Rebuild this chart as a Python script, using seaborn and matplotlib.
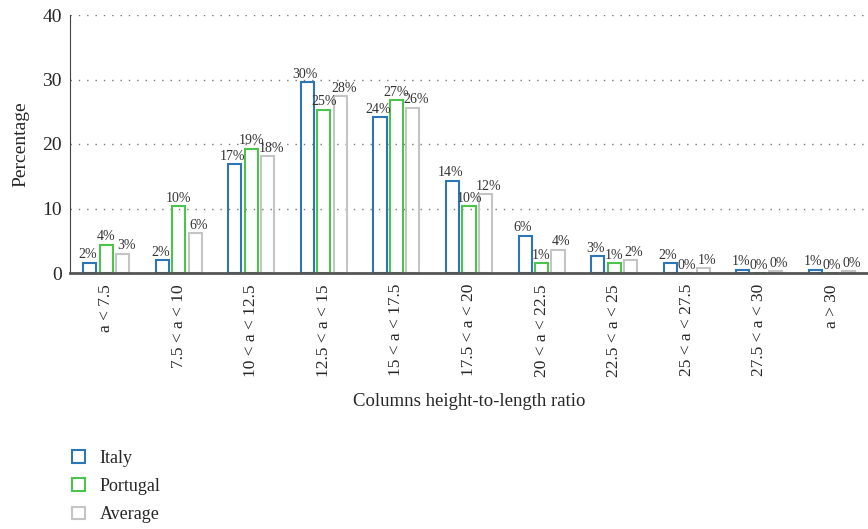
import matplotlib
matplotlib.use('Agg')
import matplotlib.pyplot as plt
import seaborn as sns
import pandas as pd
from matplotlib.patches import Patch

cats = ['a < 7.5', '7.5 < a < 10', '10 < a < 12.5', '12.5 < a < 15', '15 < a < 17.5',
        '17.5 < a < 20', '20 < a < 22.5', '22.5 < a < 25', '25 < a < 27.5',
        '27.5 < a < 30', 'a > 30']
italy = [1.6, 2.0, 16.9, 29.6, 24.2, 14.3, 5.8, 2.6, 1.5, 0.5, 0.5]
portugal = [4.4, 10.4, 19.3, 25.3, 26.8, 10.4, 1.5, 1.5, 0.0, 0.0, 0.0]
average = [3.0, 6.2, 18.1, 27.4, 25.6, 12.2, 3.6, 2.0, 0.7, 0.25, 0.25]
lab_it = ['2%', '2%', '17%', '30%', '24%', '14%', '6%', '3%', '2%', '1%', '1%']
lab_pt = ['4%', '10%', '19%', '25%', '27%', '10%', '1%', '1%', '0%', '0%', '0%']
lab_av = ['3%', '6%', '18%', '28%', '26%', '12%', '4%', '2%', '1%', '0%', '0%']
series = ['Italy', 'Portugal', 'Average']
cols = ['#2e75b6', '#4cc34c', '#c4c4c4']

df = pd.DataFrame({
    'cat': cats * 3,
    'val': italy + portugal + average,
    'ser': [s for s in series for _ in cats],
})

sns.set_style('white')
plt.rcParams['font.family'] = ['Liberation Serif', 'DejaVu Serif']

fig = plt.figure(figsize=(8.68, 5.29), dpi=100)
ax = fig.add_axes([70 / 868, 1 - 273 / 529, 798 / 868, 258 / 529])

sns.barplot(data=df, x='cat', y='val', hue='ser', palette=cols, fill=False,
            width=0.68, gap=0.2, linewidth=1.5, ax=ax, legend=False)

# spread labels a bit sideways so neighbours don't collide
for c, labs, dx in zip(ax.containers, [lab_it, lab_pt, lab_av], [-1.5, 0, 2.5]):
    ts = ax.bar_label(c, labels=labs, fontsize=10, color='#333333', padding=1)
    for t in ts:
        t.xyann = (dx, t.xyann[1])

ax.set_ylim(0, 40)
ax.set_yticks([0, 10, 20, 30, 40])
ax.set_xlim(-0.5, len(cats) - 0.5)
ax.yaxis.grid(True, ls=(0, (1, 5)), color='#777777', lw=1)
ax.set_axisbelow(True)
for s in ['top', 'right']:
    ax.spines[s].set_visible(False)
ax.spines['left'].set_color('#444444')
ax.spines['bottom'].set_color('#555555')
ax.spines['bottom'].set_linewidth(2)
ax.tick_params(axis='x', rotation=90, labelsize=12.5, length=0, pad=8)
ax.tick_params(axis='y', labelsize=14, length=0, pad=6)
ax.set_xlabel('Columns height-to-length ratio', fontsize=13.5, labelpad=12)
ax.set_ylabel('Percentage', fontsize=14, labelpad=9)

hs = [Patch(facecolor='white', edgecolor=c, lw=1.5) for c in cols]
fig.legend(hs, series, loc='lower left', bbox_to_anchor=(56 / 868, -0.02), frameon=False,
           fontsize=13, handlelength=0.7, handleheight=0.7, labelspacing=0.62, handletextpad=0.8)

plt.savefig('out.png', dpi=100)
plt.close()
